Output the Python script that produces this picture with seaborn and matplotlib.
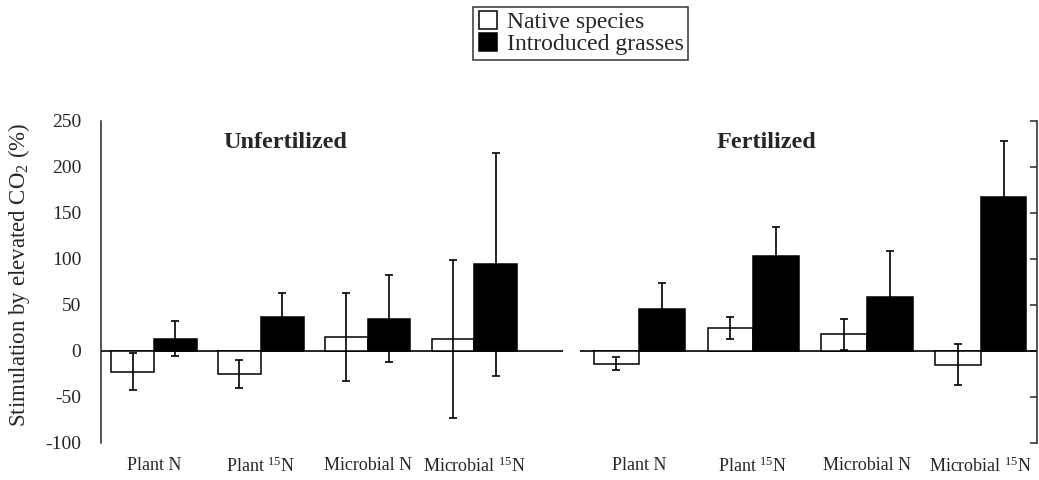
import numpy as np
import pandas as pd
import matplotlib
matplotlib.use("Agg")
import matplotlib.pyplot as plt
import seaborn as sns
from matplotlib.lines import Line2D

measures = ["Plant N", "Plant $^{15}$N", "Microbial N", "Microbial $^{15}$N"]
groups = ["Native species", "Introduced grasses"]

unfert_native = [-23, -25, 15, 13]
unfert_native_err = [20, 15, 48, 86]
unfert_intro = [13, 37, 35, 94]
unfert_intro_err = [19, 26, 47, 121]

fert_native = [-14, 25, 18, -15]
fert_native_err = [7, 12, 17, 22]
fert_intro = [45, 103, 58, 167]
fert_intro_err = [29, 31, 50, 61]

y_ticks = [-100, -50, 0, 50, 100, 150, 200, 250]


def draw_panel(ax, native, native_err, intro, intro_err):
    df = pd.DataFrame({
        "measure": measures * 2,
        "group": [groups[0]] * 4 + [groups[1]] * 4,
        "value": native + intro,
    })
    sns.barplot(data=df, x="measure", y="value", hue="group", order=measures,
                hue_order=groups, palette=["white", "black"], edgecolor="black",
                linewidth=1.1, saturation=1, errorbar=None, legend=False,
                width=0.8, ax=ax, zorder=2)
    vals = native + intro
    errs = native_err + intro_err
    xs = [p.get_x() + p.get_width() / 2 for p in ax.patches]
    ax.errorbar(xs, vals, yerr=errs, fmt="none", ecolor="black",
                elinewidth=1.2, capsize=3, capthick=1.2, zorder=3)
    ax.axhline(0, color="black", lw=1.2, zorder=1)
    ax.set_ylim(-100, 250)
    ax.set_yticks(y_ticks)
    ax.set_xlabel("")
    ax.set_ylabel("")
    ax.tick_params(axis="x", length=0, pad=10, labelsize=13)
    for s in ["top", "bottom", "left", "right"]:
        ax.spines[s].set_visible(False)
        ax.spines[s].set_linewidth(1.1)


sns.set_style("white")
plt.rcParams["font.family"] = ["Liberation Serif", "DejaVu Serif"]
plt.rcParams["mathtext.default"] = "regular"
plt.rcParams["axes.unicode_minus"] = False

fig = plt.figure(figsize=(10.39, 4.8), dpi=100)
ax1 = fig.add_axes([0.0969, 0.0777, 0.445, 0.6708])
ax2 = fig.add_axes([0.5582, 0.0777, 0.4396, 0.6708])

draw_panel(ax1, unfert_native, unfert_native_err, unfert_intro, unfert_intro_err)
draw_panel(ax2, fert_native, fert_native_err, fert_intro, fert_intro_err)

ax1.set_xlim(-0.5, 3.83)
ax2.set_xlim(-0.52, 3.49)

ax1.spines["left"].set_visible(True)
ax1.tick_params(axis="y", direction="in", length=5, width=1.1,
                labelsize=14, pad=14)
ax2.spines["right"].set_visible(True)
ax2.yaxis.tick_right()
ax2.tick_params(axis="y", direction="in", length=5, width=1.1,
                labelright=False, labelleft=False)

ax1.text(1.23, 226, "Unfertilized", ha="center", va="center",
         fontsize=17.5, fontweight="bold")
ax2.text(1.12, 226, "Fertilized", ha="center", va="center",
         fontsize=17.5, fontweight="bold")

fig.text(0.018, 0.427, "Stimulation by elevated CO$_2$ (%)", rotation=90,
         ha="center", va="center", fontsize=16.5)

handles = [
    Line2D([], [], marker="s", ls="none", markersize=13,
           markerfacecolor="white", markeredgecolor="black", markeredgewidth=1.1),
    Line2D([], [], marker="s", ls="none", markersize=13,
           markerfacecolor="black", markeredgecolor="black", markeredgewidth=1.1),
]
leg = fig.legend(handles, groups, loc="upper center", bbox_to_anchor=(0.559, 0.985),
                 frameon=True, fancybox=False, fontsize=17, handlelength=0.8,
                 handletextpad=0.4, labelspacing=0.02, borderpad=0.2,
                 borderaxespad=0)
leg.get_frame().set_edgecolor("black")
leg.get_frame().set_linewidth(1.1)

fig.savefig("out.png", dpi=100)
